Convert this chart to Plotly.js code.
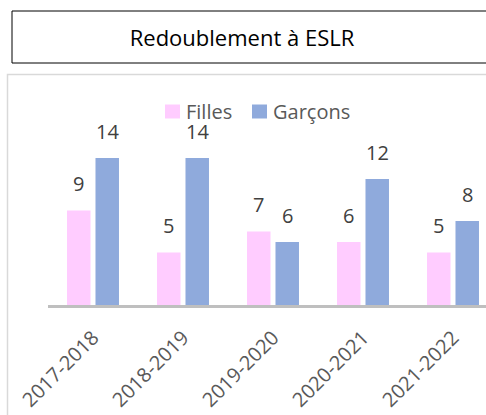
<!DOCTYPE html>
<html>
<head>
<meta charset="utf-8">
<script src="https://cdn.plot.ly/plotly-3.0.1.min.js"></script>
<style>html,body{margin:0;padding:0;background:#fff;}#chart{width:486px;height:415px;}</style>
</head>
<body>
<div id="chart"></div>
<script>
const categories = ["2017-2018", "2018-2019", "2019-2020", "2020-2021", "2021-2022"];
const filles = [9, 5, 7, 6, 5];
const garcons = [14, 14, 6, 12, 8];
const seriesNames = ["Filles", "Garçons"];
const seriesColors = ["#FFCCFF", "#8FAADC"];
const chartTitle = "Redoublement à ESLR";

const FONT = "Open Sans, Noto Sans, sans-serif";
const W = 486, H = 415;
const mL = 48, mR = 0, mT = 95, mB = 110;
const plotW = W - mL - mR, plotH = H - mT - mB;
const px2x = p => (p - mL) / plotW;
const py2y = p => (H - mB - p) / plotH;
const slotShift = 14.25;

const traces = [
  {type: "bar", name: seriesNames[0], x: categories, y: filles,
   marker: {color: seriesColors[0]}, hoverinfo: "skip", showlegend: false},
  {type: "bar", name: seriesNames[1], x: categories, y: garcons,
   marker: {color: seriesColors[1]}, hoverinfo: "skip", showlegend: false}
];

const annotations = [];
[filles, garcons].forEach((vals, si) => {
  vals.forEach((v, i) => {
    annotations.push({
      x: categories[i], y: v, xref: "x", yref: "y",
      text: String(v), showarrow: false,
      xshift: si === 0 ? -slotShift : slotShift, yshift: 27,
      yanchor: "middle", xanchor: "center",
      font: {family: FONT, size: 20, color: "#404040"}
    });
  });
});

// manual legend (squares + labels)
const legendSquares = [[165, 180], [252, 267]];
const legendTextX = [184, 271];
const legendY = 111.5;
const shapes = [
  {type: "rect", xref: "paper", yref: "paper", x0: px2x(12), x1: px2x(520), y0: py2y(63), y1: py2y(11),
   line: {color: "#000", width: 1}, fillcolor: "rgba(0,0,0,0)", layer: "below"},
  {type: "rect", xref: "paper", yref: "paper", x0: px2x(7.5), x1: px2x(520), y0: py2y(440), y1: py2y(74.5),
   line: {color: "#D9D9D9", width: 1.5}, fillcolor: "rgba(0,0,0,0)", layer: "below"}
];
seriesNames.forEach((name, k) => {
  shapes.push({type: "rect", xref: "paper", yref: "paper",
    x0: px2x(legendSquares[k][0]), x1: px2x(legendSquares[k][1]),
    y0: py2y(legendY + 7), y1: py2y(legendY - 7),
    line: {width: 0}, fillcolor: seriesColors[k]});
  annotations.push({xref: "paper", yref: "paper", x: px2x(legendTextX[k]), y: py2y(legendY),
    xanchor: "left", yanchor: "middle", showarrow: false, text: name,
    font: {family: FONT, size: 20, color: "#595959"}});
});

const layout = {
  width: W, height: H,
  margin: {l: mL, r: mR, t: mT, b: mB, pad: 0},
  paper_bgcolor: "#fff", plot_bgcolor: "rgba(0,0,0,0)",
  barmode: "group", bargap: 0.367, bargroupgap: 0.175,
  title: {
    text: chartTitle, xref: "container", yref: "container",
    x: 242 / W, y: 1 - 38 / H, xanchor: "center", yanchor: "middle",
    font: {family: FONT, size: 22, color: "#000"}
  },
  xaxis: {
    type: "category", range: [-0.5, 4.5 - 12 / 90],
    showline: true, linecolor: "#BFBFBF", linewidth: 3,
    ticks: "", tickangle: -45, showgrid: false, zeroline: false, ticklabelstandoff: 10,
    tickfont: {family: FONT, size: 20, color: "#595959"}, fixedrange: true
  },
  yaxis: {range: [0, 20], visible: false, fixedrange: true},
  showlegend: false,
  annotations: annotations,
  shapes: shapes
};

Plotly.newPlot("chart", traces, layout, {displayModeBar: false, staticPlot: true});
</script>
</body>
</html>
